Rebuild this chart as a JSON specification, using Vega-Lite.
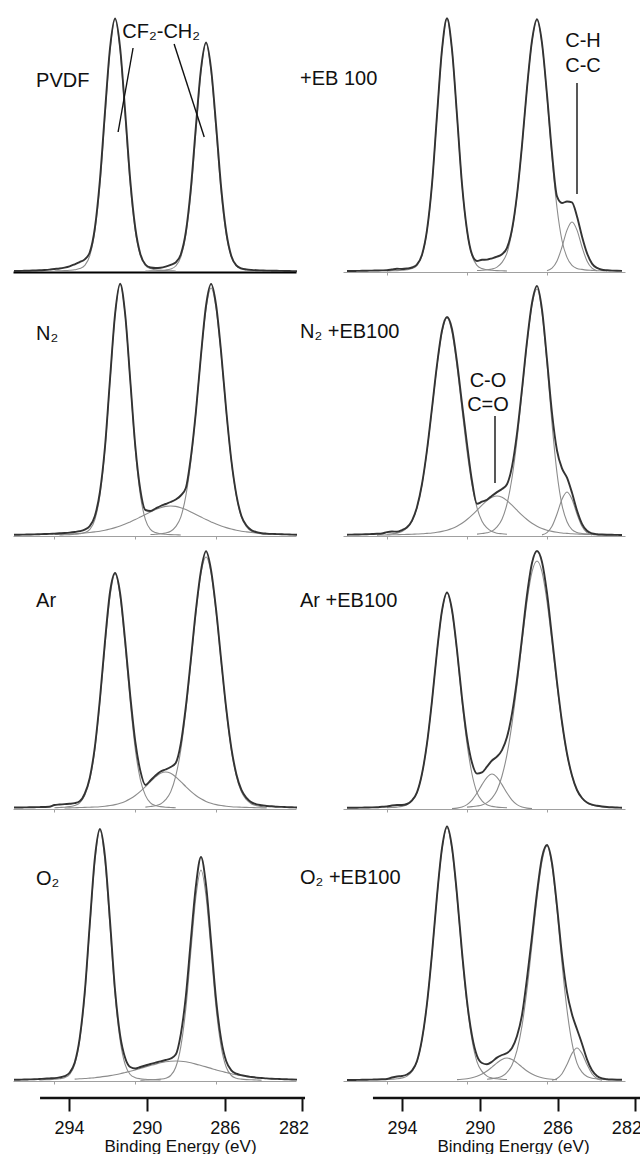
{
"$schema":"https://vega.github.io/schema/vega-lite/v6.json",
"padding":{"left":10,"top":14,"right":0,"bottom":0},
"background":"white",
"config":{"view":{"stroke":null},"font":"Liberation Sans"},
"columns":2,
"spacing":{"row":12,"column":30},
"bounds":"flush",
"align":"each",
"resolve":{"scale":{"x":"independent","y":"independent"}},
"datasets":{
"names":[
{"p":1,"t":"PVDF","e":294.91,"v":191},
{"p":2,"t":"+EB 100","e":298.35,"v":193},
{"p":3,"t":"N₂","e":294.91,"v":202},
{"p":4,"t":"N₂ +EB100","e":298.35,"v":204},
{"p":5,"t":"Ar","e":294.91,"v":208},
{"p":6,"t":"Ar +EB100","e":298.35,"v":208},
{"p":7,"t":"O₂","e":294.91,"v":202},
{"p":8,"t":"O₂ +EB100","e":298.35,"v":203}],
"groups":[
{"p":1,"t":"CF₂-CH₂","e":288.72,"v":240},
{"p":2,"t":"C-H","e":284.2,"v":231},
{"p":2,"t":"C-C","e":284.2,"v":206},
{"p":4,"t":"C-O","e":288.95,"v":155},
{"p":4,"t":"C=O","e":288.95,"v":131}],
"pointers":[
{"p":1,"e":290.11,"v":224,"e2":290.85,"v2":140},
{"p":1,"e":288.08,"v":228,"e2":286.59,"v2":135},
{"p":2,"e":284.5,"v":189,"e2":284.5,"v2":78},
{"p":4,"e":288.6,"v":120,"e2":288.6,"v2":53}],
"axL":[{"e":295.49,"e2":281.87,"v":0}],
"axR":[{"e":295.49,"e2":281.76,"v":0}],
"p1":[
{"e":296,"E":1.0},{"e":295.75,"E":1.0},{"e":295.5,"E":1.2},{"e":295.25,"E":1.3},{"e":295,"E":1.5},{"e":294.75,"E":1.7},{"e":294.5,"E":2.0},{"e":294.25,"E":2.4},
{"e":294,"E":3.0,"A":1.0},{"e":293.75,"E":3.5,"A":1.2},{"e":293.5,"E":4.4,"A":1.4},{"e":293.25,"E":5.7,"A":1.7},{"e":293,"E":7.7,"A":2.2},{"e":292.75,"E":9.9,"A":3.4},{"e":292.5,"E":12.6,"A":6.6},{"e":292.25,"E":19.8,"A":16.4},{"e":292,"E":44,"A":41},{"e":291.75,"E":92,"A":87},{"e":291.5,"E":160,"A":155.8},{"e":291.25,"E":224,"A":221.6},{"e":291,"E":253.5,"A":253},{"e":290.75,"E":224,"A":221.6},{"e":290.5,"E":160,"A":155.8},{"e":290.25,"E":92,"A":87},{"e":290,"E":44,"A":41},{"e":289.75,"E":18,"A":16.4},
{"e":289.5,"E":7.5,"A":6.6,"B":0.9},{"e":289.25,"E":4.5,"A":3.4,"B":1.1},{"e":289,"E":4.0,"A":2.2,"B":1.3},{"e":288.75,"E":4.3,"A":1.7,"B":1.6},{"e":288.5,"E":5.4,"A":1.4,"B":2.0},{"e":288.25,"E":7.2,"A":1.2,"B":3.0},{"e":288,"E":9.5,"A":1.0,"B":6.0},
{"e":287.75,"E":17.5,"B":14.9},{"e":287.5,"E":40,"B":37.1},{"e":287.25,"E":84,"B":78.8},{"e":287,"E":146,"B":141},{"e":286.75,"E":203,"B":200.6},{"e":286.5,"E":229.5,"B":229},{"e":286.25,"E":203,"B":200.6},{"e":286,"E":146,"B":141},{"e":285.75,"E":84,"B":78.8},{"e":285.5,"E":40,"B":37.1},{"e":285.25,"E":16,"B":14.9},{"e":285,"E":6.6,"B":6.0},{"e":284.75,"E":3.6,"B":3.0},{"e":284.5,"E":2.6,"B":2.0},{"e":284.25,"E":2.1,"B":1.6},{"e":284,"E":1.8,"B":1.3},{"e":283.75,"E":1.6,"B":1.1},{"e":283.5,"E":1.4,"B":0.9},
{"e":283.25,"E":1.3},{"e":283,"E":1.2},{"e":282.75,"E":1.1},{"e":282.5,"E":1.0},{"e":282.25,"E":0.9},{"e":282,"E":0.8}],
"p2":[
{"e":296,"E":1.0},{"e":295.75,"E":1.0},{"e":295.5,"E":1.1},{"e":295.25,"E":1.2},{"e":295,"E":1.3},{"e":294.75,"E":1.4},{"e":294.5,"E":1.5},{"e":294.25,"E":1.6},
{"e":294,"E":1.8,"A":1.0},{"e":293.75,"E":2.5,"A":1.2},{"e":293.5,"E":3.2,"A":1.4},{"e":293.25,"E":3.0,"A":1.7},{"e":293,"E":3.5,"A":2.2},{"e":292.75,"E":4.5,"A":3.4},{"e":292.5,"E":7.5,"A":6.6},{"e":292.25,"E":17.2,"A":16.4},{"e":292,"E":41.8,"A":41},{"e":291.75,"E":87.8,"A":87},{"e":291.5,"E":156.6,"A":155.8},{"e":291.25,"E":222.4,"A":221.6},{"e":291,"E":253.8,"A":253},{"e":290.75,"E":222.5,"A":221.6},{"e":290.5,"E":156.7,"A":155.8},{"e":290.25,"E":88,"A":87},{"e":290,"E":42,"A":41},{"e":289.75,"E":17.6,"A":16.4},
{"e":289.5,"E":11,"A":6.6,"B":1.5},{"e":289.25,"E":12.2,"A":3.4,"B":1.8},{"e":289,"E":12.4,"A":2.2,"B":2.2},{"e":288.75,"E":13.7,"A":1.7,"B":3.0},{"e":288.5,"E":15.3,"A":1.4,"B":4.9},{"e":288.25,"E":17.8,"A":1.2,"B":9.6},{"e":288,"E":24.2,"A":1.0,"B":19.2},
{"e":287.75,"E":42.6,"B":40.8},{"e":287.5,"E":77.1,"B":76.4},{"e":287.25,"E":126.7,"B":126},{"e":287,"E":184.1,"B":183.5},{"e":286.75,"E":231.3,"B":230.8},{"e":286.5,"E":252.7,"B":252},{"e":286.25,"E":229,"B":228},
{"e":286,"E":177.3,"B":175.6,"D":1.3},{"e":285.75,"E":119,"B":114.9,"D":3.8},{"e":285.5,"E":75.6,"B":64.3,"D":11},{"e":285.25,"E":69,"B":31.5,"D":25},{"e":285,"E":70.5,"B":14.6,"D":41.9},{"e":284.75,"E":69.6,"B":6.6,"D":50},{"e":284.5,"E":55.5,"B":3.6,"D":41.9},{"e":284.25,"E":35.6,"B":2.6,"D":25},{"e":284,"E":18.9,"B":1.9,"D":11},{"e":283.75,"E":8.4,"B":1.6,"D":3.8},{"e":283.5,"E":4.1,"B":1.3,"D":1.3},
{"e":283.25,"E":2.3,"B":1.2},{"e":283,"E":1.8,"B":1.1},{"e":282.75,"E":1.4},{"e":282.5,"E":1.2},{"e":282.25,"E":1.1}],
"p3":[
{"e":296,"E":1.3},{"e":295.75,"E":1.3},{"e":295.5,"E":1.4},{"e":295.25,"E":1.5},{"e":295,"E":1.6},{"e":294.75,"E":1.8},{"e":294.5,"E":2.0},{"e":294.25,"E":2.1},
{"e":294,"E":2.4,"C":1.5},{"e":293.75,"E":2.7,"A":1.0,"C":1.65},{"e":293.5,"E":3.0,"A":1.2,"C":1.8},{"e":293.25,"E":3.4,"A":1.4,"C":2.0},{"e":293,"E":4.0,"A":1.7,"C":2.3},{"e":292.75,"E":4.8,"A":2.2,"C":2.6},{"e":292.5,"E":6.4,"A":3.4,"C":3.0},{"e":292.25,"E":10,"A":6.6,"C":3.5},{"e":292,"E":20,"A":16.4,"C":4.1},{"e":291.75,"E":44,"A":40.8,"C":4.8},{"e":291.5,"E":89,"A":86.7,"C":5.8},{"e":291.25,"E":157,"A":155.2,"C":7.0},{"e":291,"E":222,"A":220.8,"C":8.4},{"e":290.75,"E":252.2,"A":252,"C":10.0},{"e":290.5,"E":221.5,"A":220.8,"C":11.9},{"e":290.25,"E":156,"A":155.2,"C":14.1},{"e":290,"E":90,"A":86.7,"C":16.4},{"e":289.75,"E":46,"A":40.8,"C":19.0},{"e":289.5,"E":26,"A":16.4,"C":21.6},
{"e":289.25,"E":25,"A":6.6,"B":1.5,"C":24.1},{"e":289,"E":27.5,"A":3.4,"B":1.8,"C":26.4},{"e":288.75,"E":30,"A":2.2,"B":2.2,"C":28.3},{"e":288.5,"E":32,"A":1.7,"B":3.0,"C":29.6},{"e":288.25,"E":34,"A":1.4,"B":4.8,"C":30},{"e":288,"E":36.5,"A":1.2,"B":9.4,"C":29.6},{"e":287.75,"E":40.5,"A":1.0,"B":18.8,"C":28.3},
{"e":287.5,"E":48,"B":40.2,"C":26.4},{"e":287.25,"E":79,"B":75.1,"C":24.1},{"e":287,"E":124.7,"B":124,"C":21.6},{"e":286.75,"E":181,"B":180.5,"C":19.0},{"e":286.5,"E":230.5,"B":227.2,"C":16.4},{"e":286.25,"E":252,"B":248,"C":14.1},{"e":286,"E":230.5,"B":227.2,"C":11.9},{"e":285.75,"E":183,"B":180.5,"C":10.0},{"e":285.5,"E":125.5,"B":124,"C":8.4},{"e":285.25,"E":76,"B":75.1,"C":7.0},{"e":285,"E":41.2,"B":40.2,"C":5.8},{"e":284.75,"E":20,"B":18.8,"C":4.8},{"e":284.5,"E":10.5,"B":9.4,"C":4.1},{"e":284.25,"E":5.8,"B":4.8,"C":3.5},{"e":284,"E":3.8,"B":3.0,"C":3.0},{"e":283.75,"E":2.8,"B":2.2,"C":2.6},{"e":283.5,"E":2.4,"B":1.8,"C":2.3},{"e":283.25,"E":2.1,"B":1.5,"C":2.0},
{"e":283,"E":1.9,"C":1.8},{"e":282.75,"E":1.7,"C":1.65},{"e":282.5,"E":1.6,"C":1.5},{"e":282.25,"E":1.4},{"e":282,"E":1.3}],
"p4":[
{"e":296,"E":1.3},{"e":295.75,"E":1.4},{"e":295.5,"E":1.5},{"e":295.25,"E":1.6},{"e":295,"E":1.8},{"e":294.75,"E":2.0},{"e":294.5,"E":2.2,"C":0.9},{"e":294.25,"E":2.5,"C":1.0},
{"e":294,"E":3.9,"A":1.7,"C":1.1},{"e":293.75,"E":4.5,"A":2.2,"C":1.2},{"e":293.5,"E":4.3,"A":2.8,"C":1.3},{"e":293.25,"E":5.9,"A":4.4,"C":1.45},{"e":293,"E":8.7,"A":8.1,"C":1.6},{"e":292.75,"E":15.4,"A":14.8,"C":1.8},{"e":292.5,"E":29,"A":28.3,"C":2.0},{"e":292.25,"E":52,"A":51.2,"C":2.2},{"e":292,"E":86,"A":85,"C":2.6},{"e":291.75,"E":128,"A":126.9,"C":3.0},{"e":291.5,"E":171.2,"A":169.8,"C":3.7},{"e":291.25,"E":205.5,"A":203.8,"C":4.6},{"e":291,"E":219,"A":218,"C":5.8},{"e":290.75,"E":207,"A":203.8,"C":7.5},{"e":290.5,"E":174,"A":169.8,"C":9.8},{"e":290.25,"E":132.5,"A":126.9,"C":12.8},{"e":290,"E":92,"A":85,"C":16.5},{"e":289.75,"E":55,"A":51.2,"C":20.9},
{"e":289.5,"E":32.2,"A":28.3,"B":1.9,"C":25.8},{"e":289.25,"E":34.3,"A":14.8,"B":2.5,"C":30.9},{"e":289,"E":36.3,"A":8.1,"B":3.2,"C":35.4},{"e":288.75,"E":40.3,"A":4.4,"B":4.9,"C":38.7},{"e":288.5,"E":43.9,"A":2.8,"B":9.1,"C":40},{"e":288.25,"E":47,"A":2.2,"B":16.8,"C":38.7},{"e":288,"E":51.8,"A":1.7,"B":32.1,"C":35.4},
{"e":287.75,"E":69.4,"B":58,"C":30.9},{"e":287.5,"E":102.5,"B":96.3,"C":25.8},{"e":287.25,"E":147,"B":143.8,"C":20.9},{"e":287,"E":194.4,"B":192.4,"C":16.5},{"e":286.75,"E":233,"B":230.9,"C":12.8},{"e":286.5,"E":250,"B":247,"C":9.8},
{"e":286.25,"E":226.4,"B":223.5,"C":7.5,"D":1.1},{"e":286,"E":176.5,"B":172.2,"C":5.8,"D":3.3},{"e":285.75,"E":123,"B":112.6,"C":4.6,"D":9.7},{"e":285.5,"E":85.5,"B":63,"C":3.7,"D":22},{"e":285.25,"E":67.7,"B":30.9,"C":3.0,"D":36.8},{"e":285,"E":58.3,"B":14.3,"C":2.6,"D":44},{"e":284.75,"E":43.2,"B":6.4,"C":2.2,"D":36.8},{"e":284.5,"E":25.5,"B":3.5,"C":2.0,"D":22},{"e":284.25,"E":12.2,"B":2.5,"C":1.8,"D":9.7},{"e":284,"E":5.2,"B":1.9,"C":1.6,"D":3.3},{"e":283.75,"E":2.6,"B":1.5,"C":1.45,"D":1.1},
{"e":283.5,"E":1.8,"B":1.3,"C":1.3},{"e":283.25,"E":1.5,"B":1.2,"C":1.2},{"e":283,"E":1.3,"B":1.0,"C":1.1},{"e":282.75,"E":1.2,"C":1.0},{"e":282.5,"E":1.1,"C":0.9},{"e":282.25,"E":1.0}],
"p5":[
{"e":296,"E":1.5},{"e":295.75,"E":1.5},{"e":295.5,"E":1.6},{"e":295.25,"E":1.7},{"e":295,"E":1.8},{"e":294.75,"E":1.9},{"e":294.5,"E":2.0},{"e":294.25,"E":2.2},
{"e":294,"E":4.0,"A":1.2},{"e":293.75,"E":4.5,"A":1.5},{"e":293.5,"E":4.9,"A":1.8,"C":1.0},{"e":293.25,"E":5.2,"A":2.4,"C":1.15},{"e":293,"E":5.8,"A":3.4,"C":1.3},{"e":292.75,"E":7.7,"A":6.1,"C":1.45},{"e":292.5,"E":15.4,"A":13.6,"C":1.6},{"e":292.25,"E":31.4,"A":29.4,"C":1.8},{"e":292,"E":62.2,"A":59.9,"C":2.0},{"e":291.75,"E":110,"A":107.2,"C":2.3},{"e":291.5,"E":167.3,"A":163.8,"C":2.8},{"e":291.25,"E":217,"A":212.7,"C":3.5},{"e":291,"E":236,"A":235,"C":4.4},{"e":290.75,"E":215.7,"A":212.7,"C":5.7},{"e":290.5,"E":167.8,"A":163.8,"C":7.6},{"e":290.25,"E":113.5,"A":107.2,"C":10.2},{"e":290,"E":67.3,"A":59.9,"C":13.5},{"e":289.75,"E":38.1,"A":29.4,"C":17.6},
{"e":289.5,"E":24,"A":13.6,"B":1.9,"C":22.4},{"e":289.25,"E":28.5,"A":6.1,"B":2.5,"C":27.4},{"e":289,"E":33.5,"A":3.4,"B":3.3,"C":32.1},{"e":288.75,"E":37.5,"A":2.4,"B":5.0,"C":35.7},{"e":288.5,"E":39.5,"A":1.8,"B":9.3,"C":37},{"e":288.25,"E":42,"A":1.5,"B":17.1,"C":35.7},{"e":288,"E":46,"A":1.2,"B":32.8,"C":32.1},
{"e":287.75,"E":65.3,"B":59.2,"C":27.4},{"e":287.5,"E":102.3,"B":98.3,"C":22.4},{"e":287.25,"E":149.6,"B":146.7,"C":17.6},{"e":287,"E":199.1,"B":196.3,"C":13.5},{"e":286.75,"E":238.4,"B":235.6,"C":10.2},{"e":286.5,"E":257.7,"B":252,"C":7.6},{"e":286.25,"E":238.6,"B":235.6,"C":5.7},{"e":286,"E":198.8,"B":196.3,"C":4.4},{"e":285.75,"E":148.7,"B":146.7,"C":3.5},{"e":285.5,"E":100.3,"B":98.3,"C":2.8},{"e":285.25,"E":61.2,"B":59.2,"C":2.3},{"e":285,"E":34.8,"B":32.8,"C":2.0},{"e":284.75,"E":19.1,"B":17.1,"C":1.8},{"e":284.5,"E":11.1,"B":9.3,"C":1.6},{"e":284.25,"E":6.6,"B":5.0,"C":1.45},{"e":284,"E":4.7,"B":3.3,"C":1.3},{"e":283.75,"E":3.8,"B":2.5,"C":1.15},{"e":283.5,"E":3.0,"B":1.9,"C":1.0},
{"e":283.25,"E":2.7},{"e":283,"E":2.3},{"e":282.75,"E":2.1},{"e":282.5,"E":1.9},{"e":282.25,"E":1.7},{"e":282,"E":1.5}],
"p6":[
{"e":296,"E":1.2},{"e":295.75,"E":1.2},{"e":295.5,"E":1.3},{"e":295.25,"E":1.4},{"e":295,"E":1.5},{"e":294.75,"E":1.6},{"e":294.5,"E":1.8},{"e":294.25,"E":2.2},
{"e":294,"E":2.5,"A":1.3},{"e":293.75,"E":3.5,"A":1.5},{"e":293.5,"E":4.0,"A":1.9},{"e":293.25,"E":4.0,"A":2.6},{"e":293,"E":5.0,"A":4.2},{"e":292.75,"E":8.7,"A":8.2},{"e":292.5,"E":16.6,"A":16.4},{"e":292.25,"E":35.2,"A":35},{"e":292,"E":65.6,"A":65.4},{"e":291.75,"E":108.2,"A":108},{"e":291.5,"E":157.5,"A":157.2},{"e":291.25,"E":198.3,"A":197.9},{"e":291,"E":216.5,"A":216},
{"e":290.75,"E":199,"A":197.9,"C":0.5},{"e":290.5,"E":159,"A":157.2,"C":0.9},{"e":290.25,"E":111.2,"A":108,"C":2.0},{"e":290,"E":71.7,"A":65.4,"B":1.9,"C":4.4},{"e":289.75,"E":46.3,"A":35,"B":2.4,"C":8.9},{"e":289.5,"E":35.4,"A":16.4,"B":3.0,"C":16},{"e":289.25,"E":36.6,"A":8.2,"B":4.0,"C":24.4},{"e":289,"E":42.3,"A":4.2,"B":6.4,"C":31.7},{"e":288.75,"E":48.5,"A":2.6,"B":10.9,"C":35},{"e":288.5,"E":52.4,"A":1.9,"B":18.8,"C":31.7},{"e":288.25,"E":58.9,"A":1.5,"B":33,"C":24.4},{"e":288,"E":71.9,"A":1.3,"B":54.6,"C":16},
{"e":287.75,"E":95.3,"B":85.3,"C":8.9},{"e":287.5,"E":129.4,"B":124,"C":4.4},{"e":287.25,"E":171,"B":166.9,"C":2.0},{"e":287,"E":214,"B":207.6,"C":0.9},{"e":286.75,"E":246,"B":237.1,"C":0.5},{"e":286.5,"E":258,"B":248},{"e":286.25,"E":247,"B":237.1},{"e":286,"E":216,"B":207.6},{"e":285.75,"E":172,"B":166.9},{"e":285.5,"E":127,"B":124},{"e":285.25,"E":87,"B":85.3},{"e":285,"E":55.5,"B":54.6},{"e":284.75,"E":33.5,"B":33},{"e":284.5,"E":19,"B":18.8},{"e":284.25,"E":11,"B":10.9},{"e":284,"E":6.5,"B":6.4},{"e":283.75,"E":4.3,"B":4.0},{"e":283.5,"E":3.2,"B":3.0},{"e":283.25,"E":2.5,"B":2.4},{"e":283,"E":2.0,"B":1.9},
{"e":282.75,"E":1.7},{"e":282.5,"E":1.5},{"e":282.25,"E":1.3}],
"p7":[
{"e":296,"E":1.2},{"e":295.75,"E":1.3},{"e":295.5,"E":1.5},{"e":295.25,"E":1.6},{"e":295,"E":1.7},
{"e":294.75,"E":2.0,"A":0.95},{"e":294.5,"E":2.3,"A":1.2},{"e":294.25,"E":2.6,"A":1.4},{"e":294,"E":2.9,"A":1.7},{"e":293.75,"E":3.6,"A":2.2},{"e":293.5,"E":4.8,"A":3.3},{"e":293.25,"E":8.2,"A":6.5},
{"e":293,"E":18.2,"A":16.3,"C":1.9},{"e":292.75,"E":42.9,"A":40.7,"C":2.2},{"e":292.5,"E":88.8,"A":86.3,"C":2.5},{"e":292.25,"E":157.5,"A":154.6,"C":2.9},{"e":292,"E":223,"A":219.9,"C":3.3},{"e":291.75,"E":252,"A":251,"C":3.9},{"e":291.5,"E":224.5,"A":219.9,"C":4.6},{"e":291.25,"E":160,"A":154.6,"C":5.4},{"e":291,"E":90.3,"A":86.3,"C":6.3},{"e":290.75,"E":45.7,"A":40.7,"C":7.3},{"e":290.5,"E":23,"A":16.3,"C":8.5},{"e":290.25,"E":14,"A":6.5,"C":9.7},{"e":290,"E":12.5,"A":3.3,"C":11.1},
{"e":289.75,"E":14,"A":2.2,"B":0.8,"C":12.6},{"e":289.5,"E":15.5,"A":1.7,"B":1.0,"C":14.1},{"e":289.25,"E":17,"A":1.4,"B":1.2,"C":15.5},{"e":289,"E":18.3,"A":1.2,"B":1.4,"C":16.9},{"e":288.75,"E":19.6,"A":0.95,"B":1.9,"C":18.2},
{"e":288.5,"E":21,"B":2.8,"C":19.2},{"e":288.25,"E":22.5,"B":5.5,"C":19.8},{"e":288,"E":26.4,"B":13.7,"C":20},{"e":287.75,"E":46.7,"B":34.2,"C":19.8},{"e":287.5,"E":84.6,"B":72.6,"C":19.2},{"e":287.25,"E":141.4,"B":130,"C":18.2},{"e":287,"E":195.3,"B":184.8,"C":16.9},{"e":286.75,"E":224,"B":211,"C":15.5},{"e":286.5,"E":195.8,"B":184.8,"C":14.1},{"e":286.25,"E":139,"B":130,"C":12.6},{"e":286,"E":80.6,"B":72.6,"C":11.1},{"e":285.75,"E":41.2,"B":34.2,"C":9.7},{"e":285.5,"E":19.7,"B":13.7,"C":8.5},{"e":285.25,"E":10.7,"B":5.5,"C":7.3},{"e":285,"E":7.3,"B":2.8,"C":6.3},{"e":284.75,"E":5.8,"B":1.9,"C":5.4},{"e":284.5,"E":4.7,"B":1.4,"C":4.6},{"e":284.25,"E":4.0,"B":1.2,"C":3.9},{"e":284,"E":3.4,"B":1.0,"C":3.3},{"e":283.75,"E":3.0,"B":0.8,"C":2.9},
{"e":283.5,"E":2.6,"C":2.5},{"e":283.25,"E":2.3,"C":2.2},{"e":283,"E":2.1,"C":1.9},{"e":282.75,"E":1.9},{"e":282.5,"E":1.7},{"e":282.25,"E":1.5},{"e":282,"E":1.4}],
"p8":[
{"e":296,"E":1.0},{"e":295.75,"E":1.0},{"e":295.5,"E":1.1},{"e":295.25,"E":1.2},{"e":295,"E":1.3},{"e":294.75,"E":1.4},{"e":294.5,"E":1.5},{"e":294.25,"E":1.7},
{"e":294,"E":2.0,"A":1.5},{"e":293.75,"E":3.5,"A":1.8},{"e":293.5,"E":4.5,"A":2.2},{"e":293.25,"E":5.0,"A":3.0},{"e":293,"E":6.5,"A":4.9},{"e":292.75,"E":10.5,"A":9.6},{"e":292.5,"E":20,"A":19.2},{"e":292.25,"E":41.8,"A":41},{"e":292,"E":77.5,"A":76.7},{"e":291.75,"E":127.4,"A":126.5},{"e":291.5,"E":185.2,"A":184.2},{"e":291.25,"E":232.8,"A":231.7},{"e":291,"E":254.5,"A":253},{"e":290.75,"E":233.6,"A":231.7},
{"e":290.5,"E":186.4,"A":184.2,"C":1.4},{"e":290.25,"E":129.1,"A":126.5,"C":1.75},{"e":290,"E":80,"A":76.7,"C":2.3},{"e":289.75,"E":45.3,"A":41,"C":3.2},{"e":289.5,"E":25.1,"A":19.2,"C":4.7},{"e":289.25,"E":18,"A":9.6,"C":7.0},
{"e":289,"E":16.7,"A":4.9,"B":1.8,"C":10},{"e":288.75,"E":19.3,"A":3.0,"B":2.35,"C":13.9},{"e":288.5,"E":23.4,"A":2.2,"B":3.1,"C":18.1},{"e":288.25,"E":26,"A":1.8,"B":4.7,"C":21.6},{"e":288,"E":28,"A":1.5,"B":8.7,"C":23},
{"e":287.75,"E":33,"B":16,"C":21.6},{"e":287.5,"E":45,"B":30.6,"C":18.1},{"e":287.25,"E":66,"B":55.2,"C":13.9},{"e":287,"E":102.6,"B":91.7,"C":10},{"e":286.75,"E":144.6,"B":136.8,"C":7.0},{"e":286.5,"E":188.6,"B":183.1,"C":4.7},{"e":286.25,"E":223.6,"B":219.7,"C":3.2},{"e":286,"E":236,"B":235,"C":2.3},
{"e":285.75,"E":217.9,"B":215.3,"C":1.75,"D":0.86},{"e":285.5,"E":175,"B":171.1,"C":1.4,"D":2.5},{"e":285.25,"E":126,"B":117.5,"D":7.3},{"e":285,"E":88.8,"B":71.2,"D":16.5},{"e":284.75,"E":66.7,"B":38.1,"D":27.6},{"e":284.5,"E":51.8,"B":17.9,"D":33},{"e":284.25,"E":37.3,"B":8.9,"D":27.6},{"e":284,"E":21.7,"B":4.5,"D":16.5},{"e":283.75,"E":10.7,"B":2.8,"D":7.3},{"e":283.5,"E":5.1,"B":2.1,"D":2.5},{"e":283.25,"E":2.6,"B":1.7,"D":0.86},
{"e":283,"E":1.8,"B":1.4},{"e":282.75,"E":1.5},{"e":282.5,"E":1.3},{"e":282.25,"E":1.2}]
},
"concat":[
{"width":283,"height":257,"data":{"name":"p1"},
 "encoding":{"x":{"field":"e","type":"quantitative","scale":{"domain":[296.05,282.05],"nice":false,"zero":false},"axis":{"values":[294,290,286,282],"labels":false,"ticks":false,"title":null,"grid":false,"domainColor":"#000000","domainWidth":2}}},
 "layer":[
  {"transform":[{"fold":["A","B","C","D"],"as":["s","v"]},{"filter":"isValid(datum.v)"}],"mark":{"type":"line","interpolate":"monotone","stroke":"#8c8c8c","strokeWidth":1.1},"encoding":{"y":{"field":"v","type":"quantitative","scale":{"domain":[0,257],"nice":false,"zero":false},"axis":null},"detail":{"field":"s"}}},
  {"mark":{"type":"line","interpolate":"monotone","stroke":"#333333","strokeWidth":1.9},"encoding":{"y":{"field":"E","type":"quantitative","scale":{"domain":[0,257],"nice":false,"zero":false},"axis":null}}},
  {"data":{"name":"pointers"},"transform":[{"filter":"datum.p==1"}],"mark":{"type":"rule","stroke":"#111111","strokeWidth":1.4},"encoding":{"y":{"field":"v","type":"quantitative","scale":{"domain":[0,257],"nice":false,"zero":false},"axis":null},"x2":{"field":"e2"},"y2":{"field":"v2"}}},
  {"data":{"name":"names"},"transform":[{"filter":"datum.p==1"}],"mark":{"type":"text","align":"left","baseline":"middle","fontSize":20,"font":"Liberation Sans","color":"#111111"},"encoding":{"y":{"field":"v","type":"quantitative","scale":{"domain":[0,257],"nice":false,"zero":false},"axis":null},"text":{"field":"t"}}},
  {"data":{"name":"groups"},"transform":[{"filter":"datum.p==1"}],"mark":{"type":"text","align":"center","baseline":"middle","fontSize":20,"font":"Liberation Sans","color":"#111111"},"encoding":{"y":{"field":"v","type":"quantitative","scale":{"domain":[0,257],"nice":false,"zero":false},"axis":null},"text":{"field":"t"}}}
 ]},
{"width":282,"height":257,"data":{"name":"p2"},
 "encoding":{"x":{"field":"e","type":"quantitative","scale":{"domain":[296.2,282.1],"nice":false,"zero":false},"axis":{"values":[294,290,286,282],"labels":false,"title":null,"grid":false,"domainColor":"#a0a0a0","domainWidth":1,"tickColor":"#a0a0a0","tickSize":3,"tickWidth":1}}},
 "layer":[
  {"transform":[{"fold":["A","B","C","D"],"as":["s","v"]},{"filter":"isValid(datum.v)"}],"mark":{"type":"line","interpolate":"monotone","stroke":"#8c8c8c","strokeWidth":1.1},"encoding":{"y":{"field":"v","type":"quantitative","scale":{"domain":[0,257],"nice":false,"zero":false},"axis":null},"detail":{"field":"s"}}},
  {"mark":{"type":"line","interpolate":"monotone","stroke":"#333333","strokeWidth":1.9},"encoding":{"y":{"field":"E","type":"quantitative","scale":{"domain":[0,257],"nice":false,"zero":false},"axis":null}}},
  {"data":{"name":"pointers"},"transform":[{"filter":"datum.p==2"}],"mark":{"type":"rule","stroke":"#111111","strokeWidth":1.4},"encoding":{"y":{"field":"v","type":"quantitative","scale":{"domain":[0,257],"nice":false,"zero":false},"axis":null},"x2":{"field":"e2"},"y2":{"field":"v2"}}},
  {"data":{"name":"names"},"transform":[{"filter":"datum.p==2"}],"mark":{"type":"text","align":"left","baseline":"middle","fontSize":20,"font":"Liberation Sans","color":"#111111"},"encoding":{"y":{"field":"v","type":"quantitative","scale":{"domain":[0,257],"nice":false,"zero":false},"axis":null},"text":{"field":"t"}}},
  {"data":{"name":"groups"},"transform":[{"filter":"datum.p==2"}],"mark":{"type":"text","align":"center","baseline":"middle","fontSize":20,"font":"Liberation Sans","color":"#111111"},"encoding":{"y":{"field":"v","type":"quantitative","scale":{"domain":[0,257],"nice":false,"zero":false},"axis":null},"text":{"field":"t"}}}
 ]},
{"width":283,"height":252,"data":{"name":"p3"},
 "encoding":{"x":{"field":"e","type":"quantitative","scale":{"domain":[296.05,282.05],"nice":false,"zero":false},"axis":{"values":[294,290,286,282],"labels":false,"title":null,"grid":false,"domainColor":"#a0a0a0","domainWidth":1,"tickColor":"#a0a0a0","tickSize":3,"tickWidth":1}}},
 "layer":[
  {"transform":[{"fold":["A","B","C","D"],"as":["s","v"]},{"filter":"isValid(datum.v)"}],"mark":{"type":"line","interpolate":"monotone","stroke":"#8c8c8c","strokeWidth":1.1},"encoding":{"y":{"field":"v","type":"quantitative","scale":{"domain":[0,252],"nice":false,"zero":false},"axis":null},"detail":{"field":"s"}}},
  {"mark":{"type":"line","interpolate":"monotone","stroke":"#333333","strokeWidth":1.9},"encoding":{"y":{"field":"E","type":"quantitative","scale":{"domain":[0,252],"nice":false,"zero":false},"axis":null}}},
  {"data":{"name":"names"},"transform":[{"filter":"datum.p==3"}],"mark":{"type":"text","align":"left","baseline":"middle","fontSize":20,"font":"Liberation Sans","color":"#111111"},"encoding":{"y":{"field":"v","type":"quantitative","scale":{"domain":[0,252],"nice":false,"zero":false},"axis":null},"text":{"field":"t"}}}
 ]},
{"width":282,"height":252,"data":{"name":"p4"},
 "encoding":{"x":{"field":"e","type":"quantitative","scale":{"domain":[296.2,282.1],"nice":false,"zero":false},"axis":{"values":[294,290,286,282],"labels":false,"title":null,"grid":false,"domainColor":"#a0a0a0","domainWidth":1,"tickColor":"#a0a0a0","tickSize":3,"tickWidth":1}}},
 "layer":[
  {"transform":[{"fold":["A","B","C","D"],"as":["s","v"]},{"filter":"isValid(datum.v)"}],"mark":{"type":"line","interpolate":"monotone","stroke":"#8c8c8c","strokeWidth":1.1},"encoding":{"y":{"field":"v","type":"quantitative","scale":{"domain":[0,252],"nice":false,"zero":false},"axis":null},"detail":{"field":"s"}}},
  {"mark":{"type":"line","interpolate":"monotone","stroke":"#333333","strokeWidth":1.9},"encoding":{"y":{"field":"E","type":"quantitative","scale":{"domain":[0,252],"nice":false,"zero":false},"axis":null}}},
  {"data":{"name":"pointers"},"transform":[{"filter":"datum.p==4"}],"mark":{"type":"rule","stroke":"#111111","strokeWidth":1.4},"encoding":{"y":{"field":"v","type":"quantitative","scale":{"domain":[0,252],"nice":false,"zero":false},"axis":null},"x2":{"field":"e2"},"y2":{"field":"v2"}}},
  {"data":{"name":"names"},"transform":[{"filter":"datum.p==4"}],"mark":{"type":"text","align":"left","baseline":"middle","fontSize":20,"font":"Liberation Sans","color":"#111111"},"encoding":{"y":{"field":"v","type":"quantitative","scale":{"domain":[0,252],"nice":false,"zero":false},"axis":null},"text":{"field":"t"}}},
  {"data":{"name":"groups"},"transform":[{"filter":"datum.p==4"}],"mark":{"type":"text","align":"center","baseline":"middle","fontSize":20,"font":"Liberation Sans","color":"#111111"},"encoding":{"y":{"field":"v","type":"quantitative","scale":{"domain":[0,252],"nice":false,"zero":false},"axis":null},"text":{"field":"t"}}}
 ]},
{"width":283,"height":261,"data":{"name":"p5"},
 "encoding":{"x":{"field":"e","type":"quantitative","scale":{"domain":[296.05,282.05],"nice":false,"zero":false},"axis":{"values":[294,290,286,282],"labels":false,"title":null,"grid":false,"domainColor":"#a0a0a0","domainWidth":1,"tickColor":"#a0a0a0","tickSize":3,"tickWidth":1}}},
 "layer":[
  {"transform":[{"fold":["A","B","C","D"],"as":["s","v"]},{"filter":"isValid(datum.v)"}],"mark":{"type":"line","interpolate":"monotone","stroke":"#8c8c8c","strokeWidth":1.1},"encoding":{"y":{"field":"v","type":"quantitative","scale":{"domain":[0,261],"nice":false,"zero":false},"axis":null},"detail":{"field":"s"}}},
  {"mark":{"type":"line","interpolate":"monotone","stroke":"#333333","strokeWidth":1.9},"encoding":{"y":{"field":"E","type":"quantitative","scale":{"domain":[0,261],"nice":false,"zero":false},"axis":null}}},
  {"data":{"name":"names"},"transform":[{"filter":"datum.p==5"}],"mark":{"type":"text","align":"left","baseline":"middle","fontSize":20,"font":"Liberation Sans","color":"#111111"},"encoding":{"y":{"field":"v","type":"quantitative","scale":{"domain":[0,261],"nice":false,"zero":false},"axis":null},"text":{"field":"t"}}}
 ]},
{"width":282,"height":261,"data":{"name":"p6"},
 "encoding":{"x":{"field":"e","type":"quantitative","scale":{"domain":[296.2,282.1],"nice":false,"zero":false},"axis":{"values":[294,290,286,282],"labels":false,"title":null,"grid":false,"domainColor":"#a0a0a0","domainWidth":1,"tickColor":"#a0a0a0","tickSize":3,"tickWidth":1}}},
 "layer":[
  {"transform":[{"fold":["A","B","C","D"],"as":["s","v"]},{"filter":"isValid(datum.v)"}],"mark":{"type":"line","interpolate":"monotone","stroke":"#8c8c8c","strokeWidth":1.1},"encoding":{"y":{"field":"v","type":"quantitative","scale":{"domain":[0,261],"nice":false,"zero":false},"axis":null},"detail":{"field":"s"}}},
  {"mark":{"type":"line","interpolate":"monotone","stroke":"#333333","strokeWidth":1.9},"encoding":{"y":{"field":"E","type":"quantitative","scale":{"domain":[0,261],"nice":false,"zero":false},"axis":null}}},
  {"data":{"name":"names"},"transform":[{"filter":"datum.p==6"}],"mark":{"type":"text","align":"left","baseline":"middle","fontSize":20,"font":"Liberation Sans","color":"#111111"},"encoding":{"y":{"field":"v","type":"quantitative","scale":{"domain":[0,261],"nice":false,"zero":false},"axis":null},"text":{"field":"t"}}}
 ]},
{"width":283,"height":260,"data":{"name":"p7"},
 "encoding":{"x":{"field":"e","type":"quantitative","scale":{"domain":[296.05,282.05],"nice":false,"zero":false},"axis":{"values":[294,290,286,282],"labels":false,"title":null,"grid":false,"domainColor":"#a0a0a0","domainWidth":1,"tickColor":"#a0a0a0","tickSize":3,"tickWidth":1}}},
 "layer":[
  {"transform":[{"fold":["A","B","C","D"],"as":["s","v"]},{"filter":"isValid(datum.v)"}],"mark":{"type":"line","interpolate":"monotone","stroke":"#8c8c8c","strokeWidth":1.1},"encoding":{"y":{"field":"v","type":"quantitative","scale":{"domain":[0,260],"nice":false,"zero":false},"axis":null},"detail":{"field":"s"}}},
  {"mark":{"type":"line","interpolate":"monotone","stroke":"#333333","strokeWidth":1.9},"encoding":{"y":{"field":"E","type":"quantitative","scale":{"domain":[0,260],"nice":false,"zero":false},"axis":null}}},
  {"data":{"name":"names"},"transform":[{"filter":"datum.p==7"}],"mark":{"type":"text","align":"left","baseline":"middle","fontSize":20,"font":"Liberation Sans","color":"#111111"},"encoding":{"y":{"field":"v","type":"quantitative","scale":{"domain":[0,260],"nice":false,"zero":false},"axis":null},"text":{"field":"t"}}}
 ]},
{"width":282,"height":260,"data":{"name":"p8"},
 "encoding":{"x":{"field":"e","type":"quantitative","scale":{"domain":[296.2,282.1],"nice":false,"zero":false},"axis":{"values":[294,290,286,282],"labels":false,"title":null,"grid":false,"domainColor":"#a0a0a0","domainWidth":1,"tickColor":"#a0a0a0","tickSize":3,"tickWidth":1}}},
 "layer":[
  {"transform":[{"fold":["A","B","C","D"],"as":["s","v"]},{"filter":"isValid(datum.v)"}],"mark":{"type":"line","interpolate":"monotone","stroke":"#8c8c8c","strokeWidth":1.1},"encoding":{"y":{"field":"v","type":"quantitative","scale":{"domain":[0,260],"nice":false,"zero":false},"axis":null},"detail":{"field":"s"}}},
  {"mark":{"type":"line","interpolate":"monotone","stroke":"#333333","strokeWidth":1.9},"encoding":{"y":{"field":"E","type":"quantitative","scale":{"domain":[0,260],"nice":false,"zero":false},"axis":null}}},
  {"data":{"name":"names"},"transform":[{"filter":"datum.p==8"}],"mark":{"type":"text","align":"left","baseline":"middle","fontSize":20,"font":"Liberation Sans","color":"#111111"},"encoding":{"y":{"field":"v","type":"quantitative","scale":{"domain":[0,260],"nice":false,"zero":false},"axis":null},"text":{"field":"t"}}}
 ]},
{"width":300,"height":5,"data":{"name":"axL"},"mark":{"type":"rule","stroke":"#111111","strokeWidth":2.5},
 "encoding":{"x":{"field":"e","type":"quantitative","scale":{"domain":[296.88,281.46],"nice":false,"zero":false},"axis":{"values":[294,290,286,282],"domain":false,"grid":false,"tickSize":13,"tickWidth":2,"tickColor":"#111111","labelFontSize":18,"labelFont":"Liberation Sans","labelColor":"#111111","labelPadding":8,"labelFlush":false,"labelOverlap":false,"labelAlign":{"condition":{"test":"datum.value == 282","value":"right"},"value":"center"},"labelOffset":{"condition":{"test":"datum.value == 282","value":6},"value":0},"title":"Binding Energy (eV)","titleFont":"Liberation Sans","titleFontSize":17,"titleFontWeight":"normal","titleColor":"#111111","titlePadding":1,"titleX":167}},
  "x2":{"field":"e2"},
  "y":{"field":"v","type":"quantitative","scale":{"domain":[0,1],"nice":false,"zero":false},"axis":null}}},
{"width":300,"height":5,"data":{"name":"axR"},"mark":{"type":"rule","stroke":"#111111","strokeWidth":2.5},
 "encoding":{"x":{"field":"e","type":"quantitative","scale":{"domain":[297.03,281.61],"nice":false,"zero":false},"axis":{"values":[294,290,286,282],"domain":false,"grid":false,"tickSize":13,"tickWidth":2,"tickColor":"#111111","labelFontSize":18,"labelFont":"Liberation Sans","labelColor":"#111111","labelPadding":8,"labelFlush":false,"labelOverlap":false,"labelAlign":{"condition":{"test":"datum.value == 282","value":"right"},"value":"center"},"labelOffset":{"condition":{"test":"datum.value == 282","value":6},"value":0},"title":"Binding Energy (eV)","titleFont":"Liberation Sans","titleFontSize":17,"titleFontWeight":"normal","titleColor":"#111111","titlePadding":1,"titleX":170}},
  "x2":{"field":"e2"},
  "y":{"field":"v","type":"quantitative","scale":{"domain":[0,1],"nice":false,"zero":false},"axis":null}}}
]
}
